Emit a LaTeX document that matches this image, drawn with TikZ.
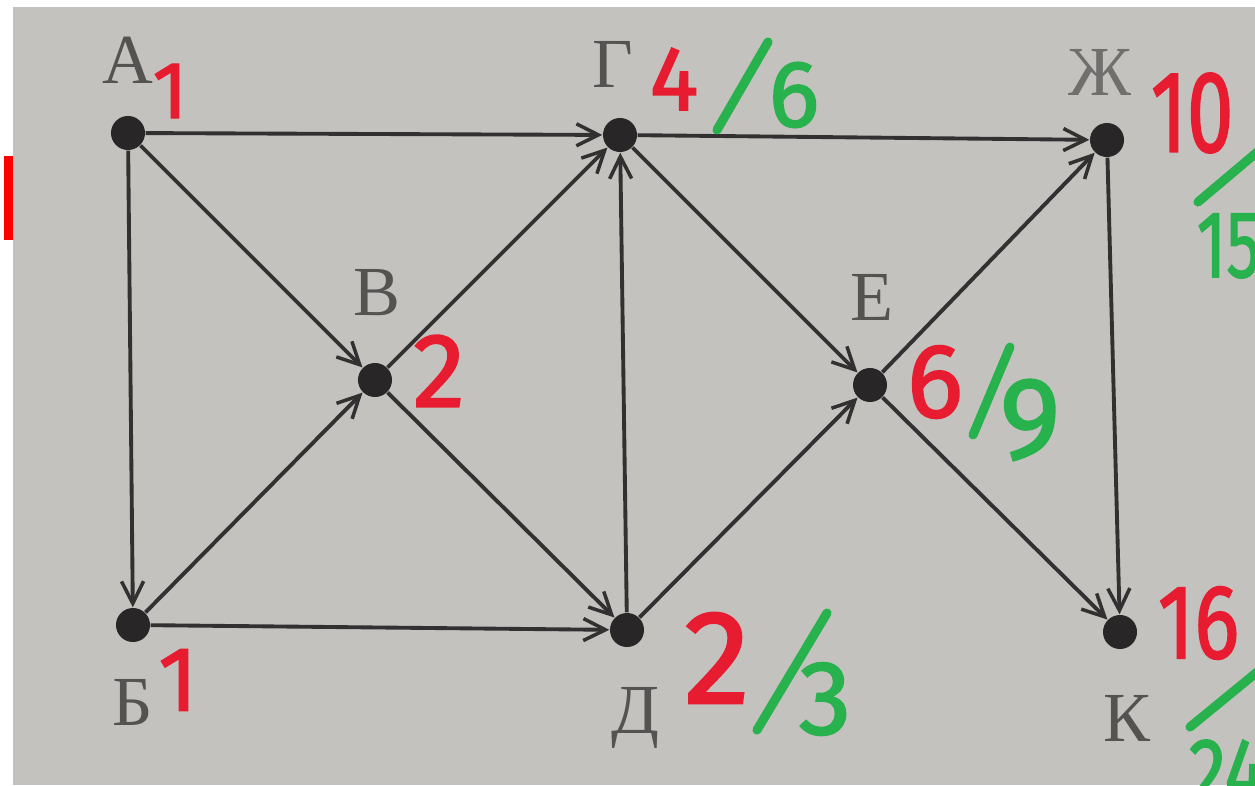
\documentclass[tikz,border=0pt]{standalone}
\usepackage{fontspec}
\setmainfont{Liberation Serif}
\newfontfamily\hand[FakeBold=1.6]{Fira Sans}
\usetikzlibrary{arrows.meta}
\definecolor{bgpaper}{RGB}{196,194,190}
\definecolor{ink}{RGB}{50,48,48}
\definecolor{letterink}{RGB}{85,83,82}
\definecolor{redpen}{RGB}{232,28,48}
\definecolor{greenpen}{RGB}{40,178,78}
\tikzset{
  vtx/.style={circle,fill=ink!80!black,inner sep=0pt,minimum size=0.34cm},
  edge/.style={draw=ink,line width=1.1pt,-{Straight Barb[length=0.22cm,width=0.22cm,line width=1pt]}},
  vlabel/.style={text=letterink,font=\fontsize{20}{20}\selectfont,inner sep=0pt},
  rnum/.style={text=redpen,font=\hand\fontsize{#1}{#1}\selectfont,inner sep=0pt},
  gnum/.style={text=greenpen,font=\hand\fontsize{#1}{#1}\selectfont,inner sep=0pt},
  gslash/.style={draw=greenpen,line width=2.6pt,line cap=round}
}
\begin{document}
\begin{tikzpicture}[x=0.01cm,y=-0.01cm]
\useasboundingbox (0,0) rectangle (1255,785);
\fill[white] (0,0) rectangle (1255,785);
\fill[bgpaper] (13,7) rectangle (1255,785);
\fill[red] (4,156) rectangle (13,240);
\begin{scope}
\clip (0,0) rectangle (1255,785);
% vertices
\node[vtx] (A) at (128,133) {};
\node[vtx] (B) at (133,625) {};
\node[vtx] (V) at (375,380) {};
\node[vtx] (G) at (620,135) {};
\node[vtx] (D) at (627,630) {};
\node[vtx] (E) at (870,385) {};
\node[vtx] (Zh) at (1107,140) {};
\node[vtx] (K) at (1120,632) {};
% edges
\draw[edge] (A) -- (G);
\draw[edge] (A) -- (B);
\draw[edge] (A) -- (V);
\draw[edge] (B) -- (V);
\draw[edge] (B) -- (D);
\draw[edge] (V) -- (G);
\draw[edge] (V) -- (D);
\draw[edge] (D) -- (G);
\draw[edge] (D) -- (E);
\draw[edge] (G) -- (E);
\draw[edge] (G) -- (Zh);
\draw[edge] (E) -- (Zh);
\draw[edge] (E) -- (K);
\draw[edge] (Zh) -- (K);
% vertex letters
\node[vlabel] (lA) at (128,60) {А};
\node[vlabel] (lB) at (133,702) {Б};
\node[vlabel] (lV) at (377,293) {В};
\node[vlabel] (lG) at (613,64) {Г};
\node[vlabel] (lD) at (635,718) {Д};
\node[vlabel] (lE) at (872,297) {Е};
\node[vlabel,text=letterink!75!bgpaper] (lZh) at (1100,72) {Ж};
\node[vlabel] (lK) at (1127,718) {К};
% red numbers
\node[rnum=23] (rA) at (170,91) {1};
\node[rnum=26] (rB) at (178,680) {1};
\node[rnum=30] (rV) at (439,371) {2};
\node[rnum=26] (rG) at (674,79) {4};
\node[rnum=38] (rD) at (717,658) {2};
\node[rnum=30] (rE) at (935,382) {6};
\node[rnum=33,anchor=west] (rZh) at (1150,113) {\scalebox{0.72}[1]{10}};
\node[rnum=30,anchor=west] (rK) at (1157,623) {\scalebox{0.8}[1]{16}};
% green slashes and numbers
\draw[gslash] (717,130) -- (768,42);
\node[gnum=27] (gG) at (794,95) {6};
\draw[gslash] (757,730) -- (827,613);
\node[gnum=30] (gD) at (825,699) {3};
\draw[gslash] (973,435) -- (1010,347);
\node[gnum=33] (gE) at (1030,420) {9};
\draw[gslash] (1198,202) -- (1262,148);
\node[gnum=27,anchor=west] (gZh) at (1196,246) {\scalebox{0.72}[1]{15}};
\draw[gslash] (1190,727) -- (1262,668);
\node[gnum=27,anchor=west] (gK) at (1188,772) {\scalebox{0.8}[1]{24}};
\end{scope}
\end{tikzpicture}
\end{document}
